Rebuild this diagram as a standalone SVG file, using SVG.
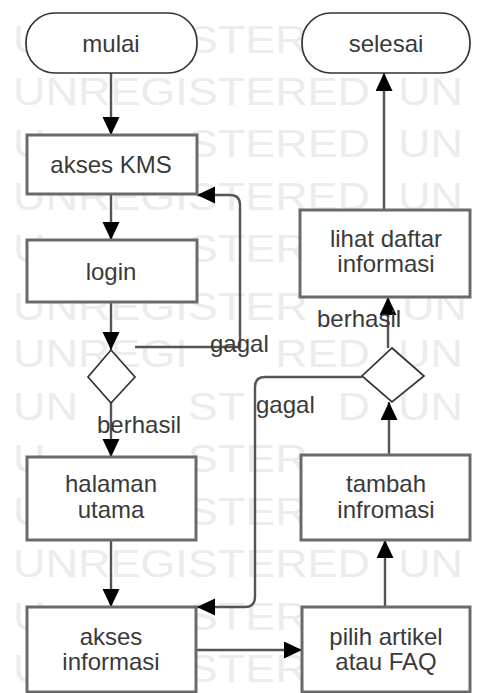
<svg xmlns="http://www.w3.org/2000/svg" width="484" height="693" viewBox="0 0 484 693">
<style>
.wm{font-family:"Liberation Sans",Arial,sans-serif;font-size:38px;fill:#ececec}
.t{font-family:"Liberation Sans",Arial,sans-serif;font-size:24px;fill:#3a3a3a;text-anchor:middle}
.lb{font-family:"Liberation Sans",Arial,sans-serif;font-size:24px;fill:#3a3a3a}
.box{fill:#fff;stroke:#6a6a6a;stroke-width:3}
.term{fill:#fff;stroke:#333;stroke-width:1.7}
.dia{fill:#fff;stroke:#333;stroke-width:1.7}
.c{fill:none;stroke:#555;stroke-width:2.4;marker-end:url(#ah)}
</style>
<defs>
<marker id="ah" markerUnits="userSpaceOnUse" markerWidth="20" markerHeight="18" refX="18" refY="8.5" orient="auto">
<path d="M0,0 L18,8.5 L0,17 z" fill="#000"/>
</marker>
</defs>
<rect width="484" height="693" fill="#fff"/>
<g id="watermark">
<text class="wm" x="13" y="53" textLength="32.4" lengthAdjust="spacingAndGlyphs">U</text><text class="wm" x="187.8" y="53" textLength="119.9" lengthAdjust="spacingAndGlyphs">STER</text>
<text class="wm" x="13" y="105" textLength="357" lengthAdjust="spacingAndGlyphs">UNREGISTERED</text><text class="wm" x="398" y="105" textLength="64.8" lengthAdjust="spacingAndGlyphs">UN</text>
<text class="wm" x="13" y="157" textLength="32.4" lengthAdjust="spacingAndGlyphs">U</text><text class="wm" x="187.8" y="157" textLength="182.3" lengthAdjust="spacingAndGlyphs">STERED</text><text class="wm" x="398" y="157" textLength="64.8" lengthAdjust="spacingAndGlyphs">UN</text>
<text class="wm" x="13" y="210" textLength="357" lengthAdjust="spacingAndGlyphs">UNREGISTERED</text><text class="wm" x="398" y="210" textLength="64.8" lengthAdjust="spacingAndGlyphs">UN</text>
<text class="wm" x="13" y="262" textLength="32.4" lengthAdjust="spacingAndGlyphs">U</text><text class="wm" x="187.8" y="262" textLength="119.9" lengthAdjust="spacingAndGlyphs">STER</text>
<text class="wm" x="13" y="320" textLength="294.6" lengthAdjust="spacingAndGlyphs">UNREGISTER</text><text class="wm" x="402" y="320" textLength="64.8" lengthAdjust="spacingAndGlyphs">UN</text>
<text class="wm" x="13" y="367" textLength="174.8" lengthAdjust="spacingAndGlyphs">UNREGI</text><text class="wm" x="275.2" y="367" textLength="94.8" lengthAdjust="spacingAndGlyphs">RED</text><text class="wm" x="398" y="367" textLength="64.8" lengthAdjust="spacingAndGlyphs">UN</text>
<text class="wm" x="13" y="420" textLength="64.8" lengthAdjust="spacingAndGlyphs">UN</text><text class="wm" x="187.8" y="420" textLength="57.4" lengthAdjust="spacingAndGlyphs">ST</text><text class="wm" x="337.6" y="420" textLength="32.4" lengthAdjust="spacingAndGlyphs">D</text><text class="wm" x="398" y="420" textLength="64.8" lengthAdjust="spacingAndGlyphs">UN</text>
<text class="wm" x="13" y="472" textLength="32.4" lengthAdjust="spacingAndGlyphs">U</text><text class="wm" x="187.8" y="472" textLength="119.9" lengthAdjust="spacingAndGlyphs">STER</text>
<text class="wm" x="13" y="525" textLength="32.4" lengthAdjust="spacingAndGlyphs">U</text><text class="wm" x="187.8" y="525" textLength="119.9" lengthAdjust="spacingAndGlyphs">STER</text>
<text class="wm" x="13" y="577" textLength="357" lengthAdjust="spacingAndGlyphs">UNREGISTERED</text><text class="wm" x="398" y="577" textLength="64.8" lengthAdjust="spacingAndGlyphs">UN</text>
<text class="wm" x="13" y="630" textLength="32.4" lengthAdjust="spacingAndGlyphs">U</text><text class="wm" x="187.8" y="630" textLength="119.9" lengthAdjust="spacingAndGlyphs">STER</text>
<text class="wm" x="13" y="682" textLength="32.4" lengthAdjust="spacingAndGlyphs">U</text><text class="wm" x="187.8" y="682" textLength="119.9" lengthAdjust="spacingAndGlyphs">STER</text>
</g>
<g id="connectors">
<path class="c" d="M111,73 V135"/>
<path class="c" d="M111,194 V240"/>
<path class="c" d="M111,302 V350"/>
<path class="c" d="M111,403 V457"/>
<path class="c" d="M111,540 V607"/>
<path class="c" d="M135,347 H240 V205 Q240,195 230,195 H197"/>
<path class="c" d="M195,650 H302"/>
<path class="c" d="M385,607 V540"/>
<path class="c" d="M389,455 V402"/>
<path class="c" d="M388,348 V297"/>
<path class="c" d="M384,210 V73"/>
<path class="c" d="M362,377 H265 Q255,377 255,387 V597 Q255,607 245,607 H197"/>
<text class="lb" x="210" y="352">gagal</text>
<text class="lb" x="97" y="433">berhasil</text>
<text class="lb" x="317" y="327">berhasil</text>
<text class="lb" x="256" y="413">gagal</text>
</g>
<g id="mulai"><rect class="term" x="26" y="13" width="171" height="60" rx="29"/><text class="t" x="111" y="52">mulai</text></g>
<g id="selesai"><rect class="term" x="302" y="13" width="168" height="60" rx="29"/><text class="t" x="386" y="52">selesai</text></g>
<g id="akses-kms"><rect class="box" x="27" y="135" width="170" height="59"/><text class="t" x="111" y="173">akses KMS</text></g>
<g id="login"><rect class="box" x="27" y="240" width="170" height="62"/><text class="t" x="111" y="280">login</text></g>
<g id="cek-login"><polygon class="dia" points="111,350 135,377 111,403 88,377"/></g>
<g id="halaman-utama"><rect class="box" x="27" y="457" width="169" height="83"/><text class="t" x="111" y="492">halaman</text><text class="t" x="111" y="518">utama</text></g>
<g id="akses-informasi"><rect class="box" x="27" y="607" width="169" height="85"/><text class="t" x="111" y="645">akses</text><text class="t" x="111" y="670">informasi</text></g>
<g id="pilih-artikel"><rect class="box" x="302" y="607" width="168" height="85"/><text class="t" x="386" y="645">pilih artikel</text><text class="t" x="386" y="670">atau FAQ</text></g>
<g id="tambah-informasi"><rect class="box" x="301" y="455" width="169" height="85"/><text class="t" x="386" y="492">tambah</text><text class="t" x="386" y="518">infromasi</text></g>
<g id="cek-tambah"><polygon class="dia" points="392,348 424,376 392,402 362,376"/></g>
<g id="lihat-daftar"><rect class="box" x="300" y="210" width="170" height="87"/><text class="t" x="386" y="247">lihat daftar</text><text class="t" x="386" y="272">informasi</text></g>
</svg>
